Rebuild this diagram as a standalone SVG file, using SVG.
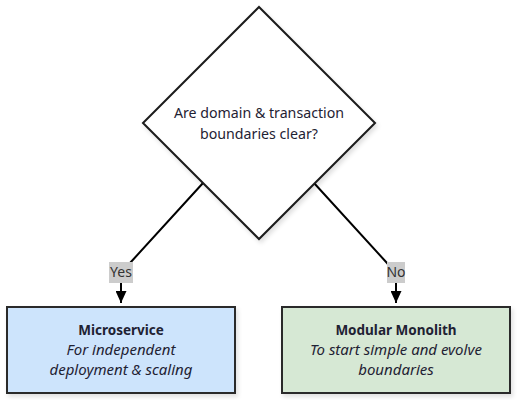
<svg xmlns="http://www.w3.org/2000/svg" width="517" height="400" viewBox="0 0 517 400">
<defs>
<filter id="sh" x="-10%" y="-10%" width="130%" height="130%">
<feDropShadow dx="2" dy="3" stdDeviation="2" flood-color="#000" flood-opacity="0.12"/>
</filter>
<marker id="arr" viewBox="0 0 12 11" refX="12" refY="5.5" markerWidth="12" markerHeight="11" markerUnits="userSpaceOnUse" orient="auto">
<path d="M0,0 L12,5.5 L0,11 Z" fill="#000"/>
</marker>
</defs>
<style>
text{font-family:"Noto Sans","DejaVu Sans",sans-serif;fill:#1f2233;text-anchor:middle}
.t{font-size:14.2px}
.b{font-weight:bold;font-size:13.5px}
.i{font-style:italic;font-size:15px}
.lbl{font-size:14px;fill:#333}
.edge{fill:none;stroke:#000;stroke-width:2}
.lb{fill:#cccccc}
</style>
<rect width="517" height="400" fill="#fff"/>
<g id="connectors">
<path class="edge" d="M203,183 L130,263 Q121,273 121,282 L121,303" marker-end="url(#arr)"/>
<path class="edge" d="M314,183 L387,263 Q396,273 396,282 L396,303" marker-end="url(#arr)"/>
<rect class="lb" x="109" y="262" width="24" height="21"/>
<text class="lbl" x="121" y="277">Yes</text>
<rect class="lb" x="387" y="262" width="18" height="21"/>
<text class="lbl" x="396" y="277">No</text>
</g>
<g id="decision">
<polygon points="259,7 375,123 259,239 143,123" fill="#fff" stroke="#1a1a1a" stroke-width="2" filter="url(#sh)"/>
<text class="t" x="259" y="118">Are domain &amp; transaction</text>
<text class="t" x="259" y="139">boundaries clear?</text>
</g>
<g id="microservice">
<rect x="7" y="307" width="228" height="86" fill="#cde4fc" stroke="#2a2a2a" stroke-width="2" filter="url(#sh)"/>
<text class="b" x="121" y="335">Microservice</text>
<text class="i" x="121" y="355">For independent</text>
<text class="i" x="121" y="375">deployment &amp; scaling</text>
</g>
<g id="monolith">
<rect x="282" y="307" width="228" height="86" fill="#d6e8d4" stroke="#2a2a2a" stroke-width="2" filter="url(#sh)"/>
<text class="b" x="396" y="335">Modular Monolith</text>
<text class="i" x="396" y="355">To start simple and evolve</text>
<text class="i" x="396" y="375">boundaries</text>
</g>
</svg>
